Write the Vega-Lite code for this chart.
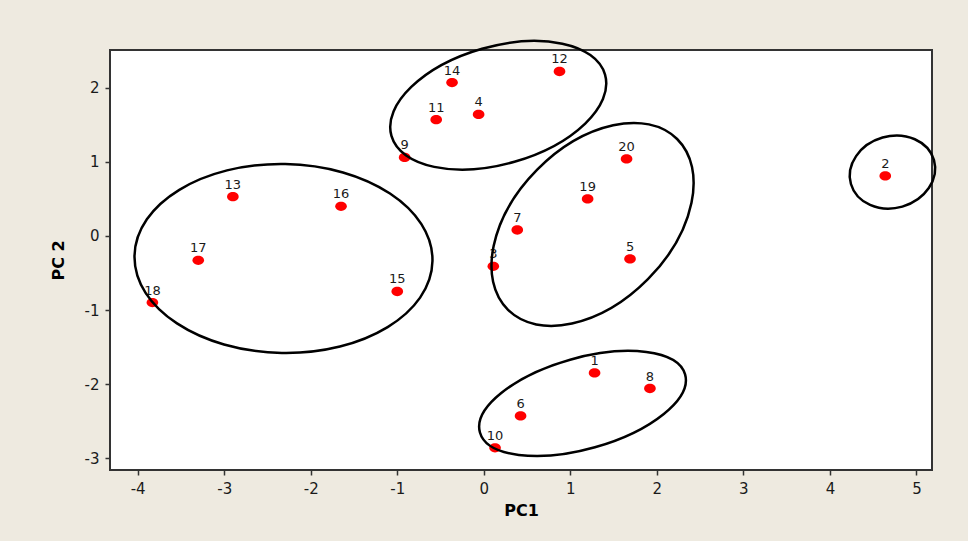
{
  "$schema": "https://vega.github.io/schema/vega-lite/v6.json",
  "width": 822,
  "height": 420,
  "autosize": "none",
  "padding": {"left": 110, "top": 50, "right": 36, "bottom": 71},
  "background": "#eeeae0",
  "config": {
    "font": "DejaVu Sans",
    "view": {"fill": "#ffffff", "stroke": "#333333", "strokeWidth": 2},
    "axis": {
      "domain": false,
      "grid": false,
      "tickColor": "#333333",
      "tickSize": 5,
      "tickWidth": 1.5,
      "labelFontSize": 15,
      "labelColor": "#1a1a1a",
      "labelPadding": 6,
      "labelExpr": "'' + datum.value",
      "titleFontSize": 16,
      "titleFontWeight": "bold",
      "titleColor": "#000000"
    }
  },
  "datasets": {
    "scores": [
      {"id": "1", "pc1": 1.28, "pc2": -1.85},
      {"id": "2", "pc1": 4.64, "pc2": 0.81},
      {"id": "3", "pc1": 0.11, "pc2": -0.41},
      {"id": "4", "pc1": -0.06, "pc2": 1.64},
      {"id": "5", "pc1": 1.69, "pc2": -0.31},
      {"id": "6", "pc1": 0.425, "pc2": -2.43},
      {"id": "7", "pc1": 0.387, "pc2": 0.08},
      {"id": "8", "pc1": 1.92, "pc2": -2.06},
      {"id": "9", "pc1": -0.915, "pc2": 1.06},
      {"id": "10", "pc1": 0.13, "pc2": -2.86},
      {"id": "11", "pc1": -0.55, "pc2": 1.57},
      {"id": "12", "pc1": 0.875, "pc2": 2.22},
      {"id": "13", "pc1": -2.9, "pc2": 0.53},
      {"id": "14", "pc1": -0.367, "pc2": 2.07},
      {"id": "15", "pc1": -1.0, "pc2": -0.75},
      {"id": "16", "pc1": -1.65, "pc2": 0.4},
      {"id": "17", "pc1": -3.3, "pc2": -0.33},
      {"id": "18", "pc1": -3.83, "pc2": -0.9},
      {"id": "19", "pc1": 1.2, "pc2": 0.5},
      {"id": "20", "pc1": 1.65, "pc2": 1.04}
    ],
    "groups": [
      {"group": "A", "cx": -2.315, "cy": -0.304},
      {"group": "B", "cx": 0.167, "cy": 1.764},
      {"group": "C", "cx": 1.257, "cy": 0.155},
      {"group": "D", "cx": 1.141, "cy": -2.262},
      {"group": "E", "cx": 4.723, "cy": 0.862}
    ]
  },
  "layer": [
    {
      "mark": {"type": "rule", "color": "#555555", "strokeWidth": 1.5},
      "encoding": {"x": {"datum": 0, "type": "quantitative"}}
    },
    {
      "mark": {"type": "rule", "color": "#555555", "strokeWidth": 1.5},
      "encoding": {"y": {"datum": 0, "type": "quantitative"}}
    },
    {
      "data": {"name": "scores"},
      "mark": {"type": "point", "filled": true, "opacity": 1, "color": "#ff0000", "size": 135,
        "shape": "M -1 0 C -1 -0.442 -0.552 -0.8 0 -0.8 C 0.552 -0.8 1 -0.442 1 0 C 1 0.442 0.552 0.8 0 0.8 C -0.552 0.8 -1 0.442 -1 0 Z"},
      "encoding": {
        "x": {"field": "pc1", "type": "quantitative", "title": "PC1",
          "scale": {"domain": [-4.32, 5.18], "nice": false, "zero": false},
          "axis": {"values": [-4, -3, -2, -1, 0, 1, 2, 3, 4, 5], "titlePadding": 6}},
        "y": {"field": "pc2", "type": "quantitative", "title": "PC 2",
          "scale": {"domain": [-3.16, 2.51], "nice": false, "zero": false},
          "axis": {"values": [-3, -2, -1, 0, 1, 2], "titlePadding": 18}}
      }
    },
    {
      "data": {"name": "scores"},
      "mark": {"type": "text", "dy": -12, "fontSize": 13, "color": "#1a1a1a"},
      "encoding": {
        "x": {"field": "pc1", "type": "quantitative"},
        "y": {"field": "pc2", "type": "quantitative"},
        "text": {"field": "id"}
      }
    },
    {
      "data": {"name": "groups"},
      "transform": [{"filter": "datum.group === 'A'"}],
      "mark": {"type": "point", "filled": false, "opacity": 1, "clip": false, "stroke": "#000000", "strokeWidth": 2.5,
        "size": 88804, "angle": 1,
        "shape": "M -1 0 C -1 -0.350 -0.552 -0.634 0 -0.634 C 0.552 -0.634 1 -0.350 1 0 C 1 0.350 0.552 0.634 0 0.634 C -0.552 0.634 -1 0.350 -1 0 Z"},
      "encoding": {
        "x": {"field": "cx", "type": "quantitative"},
        "y": {"field": "cy", "type": "quantitative"}
      }
    },
    {
      "data": {"name": "groups"},
      "transform": [{"filter": "datum.group === 'B'"}],
      "mark": {"type": "point", "filled": false, "opacity": 1, "clip": false, "stroke": "#000000", "strokeWidth": 2.5,
        "size": 49373, "angle": 344,
        "shape": "M -1 0 C -1 -0.292 -0.552 -0.529 0 -0.529 C 0.552 -0.529 1 -0.292 1 0 C 1 0.292 0.552 0.529 0 0.529 C -0.552 0.529 -1 0.292 -1 0 Z"},
      "encoding": {
        "x": {"field": "cx", "type": "quantitative"},
        "y": {"field": "cy", "type": "quantitative"}
      }
    },
    {
      "data": {"name": "groups"},
      "transform": [{"filter": "datum.group === 'C'"}],
      "mark": {"type": "point", "filled": false, "opacity": 1, "clip": false, "stroke": "#000000", "strokeWidth": 2.5,
        "size": 57792, "angle": 314.7,
        "shape": "M -1 0 C -1 -0.358 -0.552 -0.648 0 -0.648 C 0.552 -0.648 1 -0.358 1 0 C 1 0.358 0.552 0.648 0 0.648 C -0.552 0.648 -1 0.358 -1 0 Z"},
      "encoding": {
        "x": {"field": "cx", "type": "quantitative"},
        "y": {"field": "cy", "type": "quantitative"}
      }
    },
    {
      "data": {"name": "groups"},
      "transform": [{"filter": "datum.group === 'D'"}],
      "mark": {"type": "point", "filled": false, "opacity": 1, "clip": false, "stroke": "#000000", "strokeWidth": 2.5,
        "size": 45454, "angle": 344.2,
        "shape": "M -1 0 C -1 -0.236 -0.552 -0.427 0 -0.427 C 0.552 -0.427 1 -0.236 1 0 C 1 0.236 0.552 0.427 0 0.427 C -0.552 0.427 -1 0.236 -1 0 Z"},
      "encoding": {
        "x": {"field": "cx", "type": "quantitative"},
        "y": {"field": "cy", "type": "quantitative"}
      }
    },
    {
      "data": {"name": "groups"},
      "transform": [{"filter": "datum.group === 'E'"}],
      "mark": {"type": "point", "filled": false, "opacity": 1, "clip": false, "stroke": "#000000", "strokeWidth": 2.5,
        "size": 7465, "angle": 344,
        "shape": "M -1 0 C -1 -0.459 -0.552 -0.831 0 -0.831 C 0.552 -0.831 1 -0.459 1 0 C 1 0.459 0.552 0.831 0 0.831 C -0.552 0.831 -1 0.459 -1 0 Z"},
      "encoding": {
        "x": {"field": "cx", "type": "quantitative"},
        "y": {"field": "cy", "type": "quantitative"}
      }
    }
  ]
}
